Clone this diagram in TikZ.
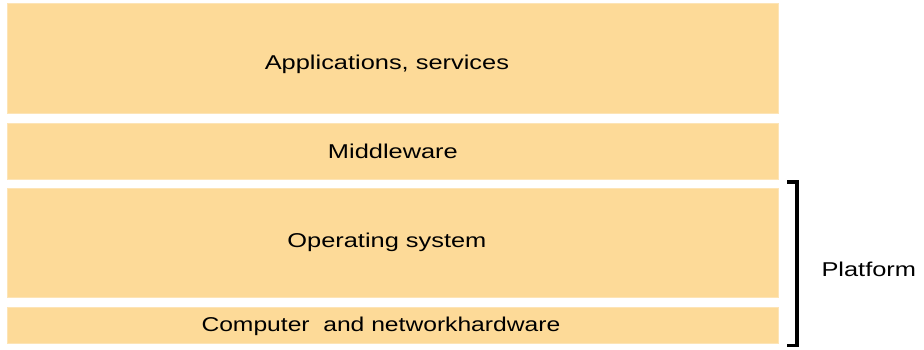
\documentclass[tikz,border=0pt]{standalone}
\usepackage{fontspec}
\setmainfont{Liberation Sans}[FakeStretch=1.27]
\definecolor{layerfill}{RGB}{253,218,152}
\definecolor{layeredge}{RGB}{253,228,182}
\begin{document}
\begin{tikzpicture}[x=1pt,y=1pt,
  txt/.style={font=\fontsize{20}{22}\selectfont},
  layer/.style={draw=layeredge, line width=0.8pt, fill=layerfill, inner sep=0pt,
    minimum width=771pt, anchor=south west, txt},
  brace/.style={line width=3.6pt, line cap=rect}]
\useasboundingbox (0,0) rectangle (924,349);
\node[layer, minimum height=110pt] (apps) at (7,235) {};
\node[txt] (appstxt) at ([xshift=-6pt,yshift=-6pt]apps.center) {Applications, services};
\node[layer, minimum height=56pt] (mid) at (7,169) {Middleware};
\node[layer, minimum height=109pt] (os) at (7,51) {};
\node[txt] (ostxt) at ([xshift=-6pt,yshift=1pt]os.center) {Operating system};
\node[layer, minimum height=36pt] (hw) at (7,5) {};
\node[txt, xscale=0.97] (hwtxt) at ([xshift=-12pt,yshift=-1pt]hw.center) {Computer\ \ and networkhardware};
\coordinate (bt) at (797,167);
\coordinate (bb) at (797,3.5);
\draw[brace] ([xshift=-8pt]bt) -- (bt) -- (bb) -- ([xshift=-8pt]bb);
\node[txt, anchor=west] (plat) at (818,80) {Platform};
\end{tikzpicture}
\end{document}
